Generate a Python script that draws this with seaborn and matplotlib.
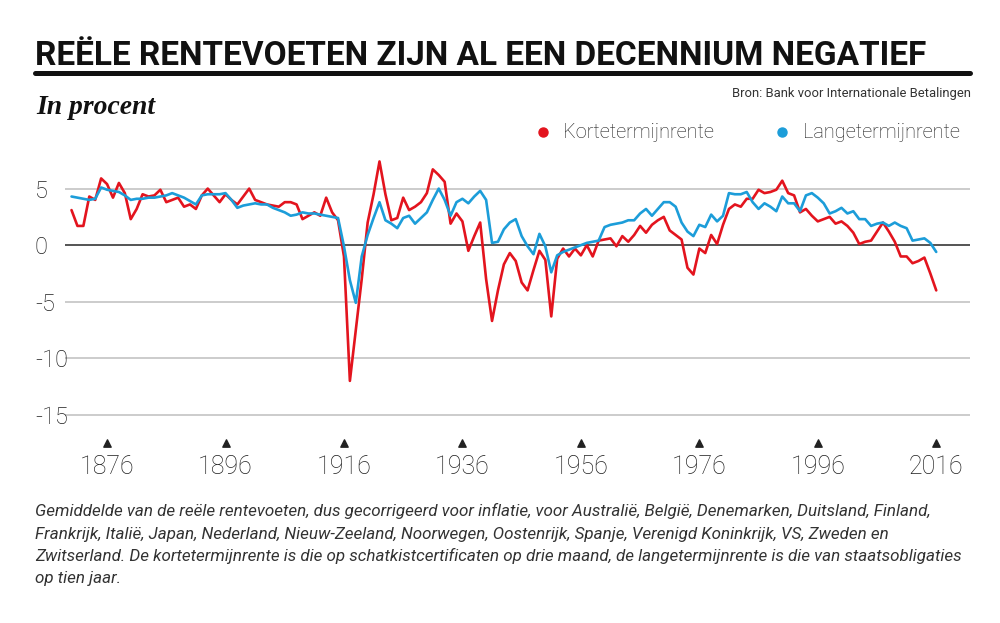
import matplotlib.pyplot as plt
import pandas as pd
import seaborn as sns
from matplotlib.lines import Line2D

years = list(range(1870, 2017))

kortetermijn = [
    3.1, 1.7, 1.7, 4.3, 4.0, 5.9, 5.4, 4.2, 5.5, 4.6,
    2.3, 3.2, 4.5, 4.3, 4.4, 4.9, 3.8, 4.0, 4.2, 3.4,
    3.6, 3.2, 4.4, 5.0, 4.4, 3.8, 4.5, 4.0, 3.6, 4.3,
    5.0, 4.0, 3.8, 3.6, 3.5, 3.4, 3.8, 3.8, 3.6, 2.3,
    2.6, 2.9, 2.6, 4.2, 2.9, 2.2, -1.0, -12.0, -7.5, -3.0,
    2.0, 4.5, 7.4, 4.5, 2.2, 2.4, 4.2, 3.1, 3.4, 3.8,
    4.6, 6.7, 6.2, 5.6, 1.9, 2.8, 2.1, -0.5, 0.8, 2.0,
    -3.0, -6.7, -4.0, -1.7, -0.7, -1.4, -3.3, -4.0, -2.2, -0.5,
    -1.3, -6.3, -1.2, -0.3, -1.0, -0.3, -0.9, 0.0, -1.0, 0.4,
    0.5, 0.6, -0.1, 0.8, 0.3, 0.9, 1.7, 1.1, 1.8, 2.2,
    2.5, 1.3, 0.9, 0.5, -2.0, -2.6, -0.3, -0.7, 0.9, 0.1,
    1.8, 3.2, 3.6, 3.4, 4.1, 4.1, 4.9, 4.6, 4.7, 4.9,
    5.7, 4.6, 4.4, 2.9, 3.2, 2.6, 2.1, 2.3, 2.5, 1.9,
    2.1, 1.7, 1.1, 0.1, 0.3, 0.4, 1.2, 2.0, 1.2, 0.3,
    -1.0, -1.0, -1.6, -1.4, -1.1, -2.5, -4.0,
]

langetermijn = [
    4.3, 4.2, 4.1, 4.0, 4.1, 5.1, 4.9, 4.8, 4.7, 4.4,
    4.0, 4.1, 4.1, 4.2, 4.2, 4.3, 4.4, 4.6, 4.4, 4.2,
    3.9, 3.6, 4.4, 4.5, 4.5, 4.5, 4.6, 4.0, 3.3, 3.5,
    3.6, 3.7, 3.6, 3.6, 3.3, 3.1, 2.9, 2.6, 2.7, 2.9,
    2.8, 2.8, 2.7, 2.6, 2.5, 2.4, -0.1, -3.1, -5.1, -1.0,
    0.9, 2.4, 3.8, 2.2, 1.9, 1.5, 2.4, 2.6, 1.9, 2.4,
    2.9, 4.0, 5.0, 4.0, 2.6, 3.8, 4.1, 3.7, 4.3, 4.8,
    4.0, 0.2, 0.3, 1.4, 2.0, 2.3, 0.8, -0.1, -0.8, 1.0,
    -0.1, -2.4, -0.9, -0.6, -0.4, -0.2, 0.0, 0.2, 0.3, 0.4,
    1.6, 1.8, 1.9, 2.0, 2.2, 2.2, 2.8, 3.2, 2.6, 3.2,
    3.8, 3.8, 3.4, 2.0, 1.2, 0.8, 1.8, 1.6, 2.7, 2.1,
    2.6, 4.6, 4.5, 4.5, 4.7, 3.8, 3.2, 3.7, 3.4, 3.0,
    4.3, 3.7, 3.7, 3.0, 4.4, 4.6, 4.2, 3.7, 2.8, 3.0,
    3.3, 2.8, 3.0, 2.3, 2.3, 1.7, 1.9, 2.0, 1.7, 2.0,
    1.7, 1.5, 0.4, 0.5, 0.6, 0.2, -0.6,
]

tick_years = [1876, 1896, 1916, 1936, 1956, 1976, 1996, 2016]
y_ticks = [5, 0, -5, -10, -15]

series = ["Kortetermijnrente", "Langetermijnrente"]
colors = {"Kortetermijnrente": "#e3141e", "Langetermijnrente": "#1c9dd9"}

df = pd.DataFrame({
    "Jaar": years + years,
    "Rente": kortetermijn + langetermijn,
    "Reeks": [series[0]] * len(years) + [series[1]] * len(years),
})

sns.set_style("white")
plt.rcParams["font.family"] = ["Roboto", "DejaVu Sans"]

fig = plt.figure(figsize=(10, 6.23), dpi=100)
ax = fig.add_axes([0.065, 0.326, 0.905, 0.433])

sns.lineplot(data=df, x="Jaar", y="Rente", hue="Reeks", palette=colors,
             linewidth=1.9, ax=ax, legend=False, zorder=3)

ax.set_xlim(1868.9, 2021.7)
ax.set_ylim(-15.45, 8.4)
ax.set_yticks(y_ticks)
ax.set_yticklabels([str(v) for v in y_ticks], fontweight="light")
ax.grid(axis="y", color="#c4c4c4", linewidth=1.2)
ax.grid(axis="x", visible=False)
ax.axhline(0, color="#555555", linewidth=1.4, zorder=2)
sns.despine(ax=ax, left=True, bottom=True)
ax.tick_params(axis="y", length=0, pad=21.6, labelsize=17, labelcolor="#1e1e1e")
for lbl in ax.get_yticklabels():
    lbl.set_horizontalalignment("left")

ax.set_xticks(tick_years)
ax.set_xticklabels([str(y) for y in tick_years], fontweight="light")
ax.tick_params(axis="x", length=0, pad=25, labelsize=18, labelcolor="#1e1e1e")
ax.scatter(tick_years, [-0.085] * len(tick_years), transform=ax.get_xaxis_transform(),
           marker="^", s=28, color="#222222", clip_on=False, zorder=4)
ax.set_xlabel("")
ax.set_ylabel("")

renderer = fig.canvas.get_renderer()


def fit_width(txt, width_px):
    bb = txt.get_window_extent(renderer)
    txt.set_fontsize(txt.get_fontsize() * width_px / bb.width)


# koptekst
title = fig.text(0.035, 1 - 65 / 623, "REËLE RENTEVOETEN ZIJN AL EEN DECENNIUM NEGATIEF",
                 fontsize=28, fontweight="bold", color="#111111", va="baseline")
fit_width(title, 894)
fig.add_artist(Line2D([0.035, 0.97], [1 - 72.5 / 623] * 2, lw=3.6, color="#111111"))
bron = fig.text(0.971, 1 - 97 / 623, "Bron: Bank voor Internationale Betalingen",
                fontsize=10.5, color="#333333", ha="right", va="baseline")
fit_width(bron, 240)
sub = fig.text(0.036, 1 - 114 / 623, "In procent", family=["Liberation Serif", "DejaVu Serif"],
               style="italic", fontweight="bold", fontsize=19, color="#111111", va="baseline")
fit_width(sub, 119)

handles = [Line2D([], [], marker="o", ls="", markersize=6.5, color=colors[s], label=s)
           for s in series]
probe = fig.text(0, 0, series[0], fontsize=15, fontweight="light")
fit_width(probe, 151)
leg_size = probe.get_fontsize()
probe.remove()
fig.legend(handles=handles, loc="center right", bbox_to_anchor=(0.978, 1 - 133 / 623),
           ncol=2, frameon=False, prop={"size": leg_size, "weight": "light"},
           handletextpad=0.05, columnspacing=2.4, labelcolor="#1e1e1e")

voetnoot = [
    "Gemiddelde van de reële rentevoeten, dus gecorrigeerd voor inflatie, voor Australië, België, Denemarken, Duitsland, Finland,",
    "Frankrijk, Italië, Japan, Nederland, Nieuw-Zeeland, Noorwegen, Oostenrijk, Spanje, Verenigd Koninkrijk, VS, Zweden en",
    "Zwitserland. De kortetermijnrente is die op schatkistcertificaten op drie maand, de langetermijnrente is die van staatsobligaties",
    "op tien jaar.",
]
regels = []
for i, regel in enumerate(voetnoot):
    regels.append(fig.text(0.035, 1 - (516 + 22.5 * i) / 623, regel, fontsize=12.5,
                           style="italic", color="#333333", va="baseline"))
fit_width(regels[2], 930)
for t in regels:
    t.set_fontsize(regels[2].get_fontsize())

fig.savefig("out.png", dpi=100, facecolor="white")
